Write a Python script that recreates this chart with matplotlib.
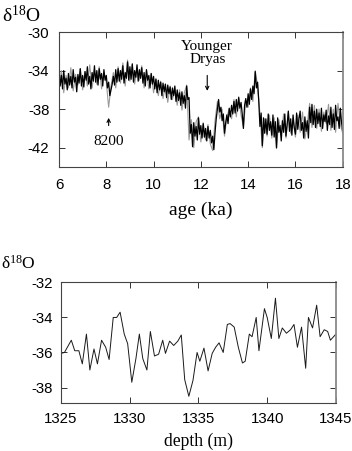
import numpy as np
import matplotlib
matplotlib.use("Agg")
import matplotlib.pyplot as plt

plt.rcParams['mathtext.default'] = 'regular'

# ---------------- data: top panel (delta18O vs age) ----------------
age_black = np.linspace(6.0, 18.0, 241)
d18o_black = [
    -34.2, -35.6, -34.5, -35.9, -34.0, -35.4, -34.8, -36.0, -34.3, -35.5,
    -34.6, -35.8, -33.9, -35.2, -34.7, -36.2, -34.4, -35.3, -33.8, -35.6,
    -34.5, -35.7, -34.1, -35.0, -33.6, -35.4, -34.6, -35.9, -34.2, -35.1,
    -33.5, -35.2, -34.0, -35.5, -33.8, -34.9, -34.3, -35.6, -33.9, -35.0,
    -34.5, -35.8, -35.2, -36.6, -36.0, -35.4, -34.6, -35.5, -33.9, -35.2,
    -33.8, -35.1, -34.0, -34.9, -33.5, -35.3, -34.2, -34.8, -33.1, -35.0,
    -33.6, -34.9, -33.3, -35.2, -34.0, -34.7, -33.4, -35.1, -33.9, -34.8,
    -33.7, -35.3, -34.2, -35.6, -33.9, -35.0, -34.5, -35.8, -34.3, -35.4,
    -34.6, -35.9, -34.9, -36.3, -35.0, -36.0, -35.2, -36.6, -35.3, -36.2,
    -35.4, -36.8, -35.5, -36.4, -35.7, -37.0, -35.8, -36.6, -35.6, -37.2,
    -36.0, -37.1, -36.3, -37.6, -36.2, -37.4, -36.6, -37.9, -35.6, -37.0,
    -36.8, -40.5, -39.6, -41.9, -39.4, -40.8, -39.8, -41.2, -38.9, -40.6,
    -39.7, -41.0, -39.5, -40.9, -40.0, -41.3, -39.8, -41.0, -40.2, -41.5,
    -40.8, -42.2, -40.4, -39.0, -38.0, -37.0, -38.3, -37.8, -39.2, -38.5,
    -40.5, -39.4, -38.6, -39.5, -37.9, -38.8, -37.6, -38.5, -37.2, -38.4,
    -37.0, -38.2, -36.8, -37.9, -37.3, -38.5, -40.0, -37.6, -36.9, -37.8,
    -36.4, -37.5, -35.9, -37.0, -35.6, -36.4, -34.1, -35.8, -35.2, -37.2,
    -39.8, -38.4, -41.8, -38.9, -40.5, -39.0, -40.6, -38.5, -40.2, -39.3,
    -40.7, -38.6, -40.9, -39.3, -42.0, -38.9, -40.4, -39.7, -41.3, -39.2,
    -40.4, -38.5, -40.8, -39.6, -38.2, -40.3, -39.0, -40.7, -38.6, -39.9,
    -40.6, -38.4, -40.1, -39.0, -38.2, -40.2, -39.4, -41.0, -38.8, -40.3,
    -39.2, -41.0, -37.8, -39.4, -37.5, -39.6, -38.2, -39.9, -38.0, -39.5,
    -38.4, -39.8, -37.9, -40.0, -38.6, -39.3, -38.1, -40.2, -38.7, -39.6,
    -37.8, -39.9, -38.5, -40.1, -37.6, -39.2, -38.8, -40.0, -37.9, -39.4,
    -40.2,
]

age_gray = np.linspace(6.0, 18.0, 121)
d18o_gray = [
    -35.9, -34.0, -36.3, -34.5, -35.8, -33.7, -36.1, -34.4, -35.5, -33.8,
    -36.0, -34.1, -35.6, -33.4, -35.8, -34.0, -35.4, -33.6, -35.9, -34.2,
    -35.2, -37.8, -35.6, -34.2, -35.8, -33.6, -35.3, -33.2, -35.6, -32.9,
    -35.1, -33.4, -35.4, -33.7, -35.0, -33.5, -35.8, -34.0, -35.9, -34.3,
    -36.3, -34.8, -36.6, -35.1, -36.9, -35.5, -37.3, -35.6, -37.0, -35.9,
    -37.6, -36.0, -38.1, -36.3, -35.5, -41.2, -39.1, -42.0, -39.3, -38.8,
    -41.4, -39.4, -41.2, -39.6, -41.6, -42.3, -39.2, -37.2, -39.0, -38.0,
    -40.8, -38.8, -38.0, -39.0, -37.0, -38.8, -36.7, -38.6, -39.8, -37.2,
    -37.8, -35.8, -37.2, -34.0, -35.6, -38.5, -42.0, -39.0, -40.8, -38.6,
    -41.0, -38.9, -42.1, -39.1, -40.7, -38.5, -41.0, -38.3, -40.5, -39.0,
    -40.9, -38.6, -40.4, -38.3, -41.1, -39.6, -37.4, -39.9, -37.6, -40.0,
    -38.0, -40.3, -38.3, -39.5, -37.5, -40.2, -38.0, -40.4, -37.4, -39.6,
    -40.5,
]

top_xticks = [6, 8, 10, 12, 14, 16, 18]
top_yticks = [-30, -34, -38, -42]

# ---------------- data: bottom panel (delta18O vs depth) ----------------
depth = [
    1325.0, 1325.25, 1325.75, 1326.0, 1326.3, 1326.55, 1326.85, 1327.1,
    1327.4, 1327.65, 1327.95, 1328.25, 1328.5, 1328.8, 1329.05, 1329.3,
    1329.6, 1329.85, 1330.15, 1330.45, 1330.7, 1330.95, 1331.25, 1331.5,
    1331.8, 1332.1, 1332.4, 1332.6, 1332.9, 1333.2, 1333.5, 1333.75,
    1334.0, 1334.3, 1334.6, 1334.9, 1335.1, 1335.4, 1335.7, 1336.0,
    1336.25, 1336.5, 1336.8, 1337.1, 1337.3, 1337.6, 1337.9, 1338.2,
    1338.4, 1338.7, 1338.9, 1339.2, 1339.4, 1339.8, 1340.0, 1340.3,
    1340.6, 1340.85, 1341.1, 1341.4, 1341.7, 1341.95, 1342.2, 1342.5,
    1342.8, 1343.0, 1343.3, 1343.6, 1343.85, 1344.15, 1344.4, 1344.6,
    1345.0,
]
d18o_depth = [
    -36.05, -36.0, -35.3, -35.9, -35.9, -36.65, -34.95, -37.0,
    -35.8, -36.65, -35.3, -35.7, -36.4, -34.0, -34.0, -33.7,
    -34.95, -35.5, -37.7, -36.35, -34.95, -36.35, -37.0, -34.8,
    -36.2, -36.1, -35.3, -36.05, -35.35, -35.6, -35.35, -35.0,
    -37.55, -38.5, -37.6, -36.0, -36.5, -35.75, -37.05, -36.05,
    -35.7, -35.45, -36.0, -34.4, -34.35, -34.55, -35.7, -36.6,
    -36.5, -34.95, -35.1, -34.0, -35.9, -33.5, -34.0, -35.2,
    -32.9, -35.2, -34.6, -34.9, -34.7, -34.4, -35.7, -34.55,
    -36.9, -34.0, -34.6, -33.3, -35.1, -34.7, -34.8, -35.3,
    -34.95,
]
bot_xticks = [1325, 1330, 1335, 1340, 1345]
bot_yticks = [-32, -34, -36, -38]

SERIF = 'Liberation Serif'
SANS = 'Liberation Sans'

fig = plt.figure(figsize=(3.52, 4.51), dpi=100)

def style(ax, fs, pad_x, pad_y):
    for s in ax.spines.values():
        s.set_color('#444444')
        s.set_linewidth(0.8)
    ax.spines['right'].set_color('#8a8a8a')
    ax.spines['right'].set_linewidth(1.3)
    ax.tick_params(direction='in', top=True, right=True, length=4,
                   width=0.7, color='#333333', labelsize=fs)
    ax.tick_params(axis='x', pad=pad_x)
    ax.tick_params(axis='y', pad=pad_y)
    for lab in ax.get_xticklabels() + ax.get_yticklabels():
        lab.set_fontfamily(SANS)

# ---- top panel ----
ax1 = fig.add_axes([0.1676, 0.6297, 0.806, 0.2993])
ax1.plot(age_gray, d18o_gray, color='#9a9a9a', lw=0.8)
ax1.plot(age_black, d18o_black, color='black', lw=0.9)
ax1.set_xlim(6, 18)
ax1.set_ylim(-44, -30)
ax1.set_xticks(top_xticks)
ax1.set_yticks(top_yticks)
ax1.set_xticklabels([str(t) for t in top_xticks])
ax1.set_yticklabels([str(t) for t in top_yticks])
style(ax1, 10.8, 8, 7)
ax1.set_xlabel('age (ka)', fontfamily=SERIF, fontsize=14, labelpad=7)

ax1.annotate('', xy=(8.1, -38.9), xytext=(8.1, -39.7),
             arrowprops=dict(arrowstyle='->', lw=0.8, color='black',
                             mutation_scale=6, shrinkA=0, shrinkB=0))
ax1.text(8.1, -41.4, '8200', ha='center', va='center',
         fontfamily=SERIF, fontsize=11)
ax1.annotate('', xy=(12.27, -36.1), xytext=(12.27, -34.5),
             arrowprops=dict(arrowstyle='->', lw=0.8, color='black',
                             mutation_scale=6, shrinkA=0, shrinkB=0))
ax1.text(12.27, -32.2, 'Younger\nDryas', ha='center', va='center',
         fontfamily=SERIF, fontsize=11, linespacing=1.05)

fig.text(0.006, 0.951, r'δ$^{18}$O', fontfamily=SERIF, fontsize=14,
         ha='left', va='baseline')

# ---- bottom panel ----
ax2 = fig.add_axes([0.1733, 0.1058, 0.781, 0.268])
ax2.plot(depth, d18o_depth, color='#1a1a1a', lw=0.7)
ax2.set_xlim(1325, 1345)
ax2.set_ylim(-38.9, -32)
ax2.set_xticks(bot_xticks)
ax2.set_yticks(bot_yticks)
ax2.set_xticklabels([str(t) for t in bot_xticks])
ax2.set_yticklabels([str(t) for t in bot_yticks])
style(ax2, 10.8, 6, 6)
ax2.set_xlabel('depth (m)', fontfamily=SERIF, fontsize=12.7, labelpad=5)

fig.text(0.003, 0.404, r'δ$^{18}$O', fontfamily=SERIF, fontsize=12.5,
         ha='left', va='baseline')

fig.savefig('out.png', dpi=100)
